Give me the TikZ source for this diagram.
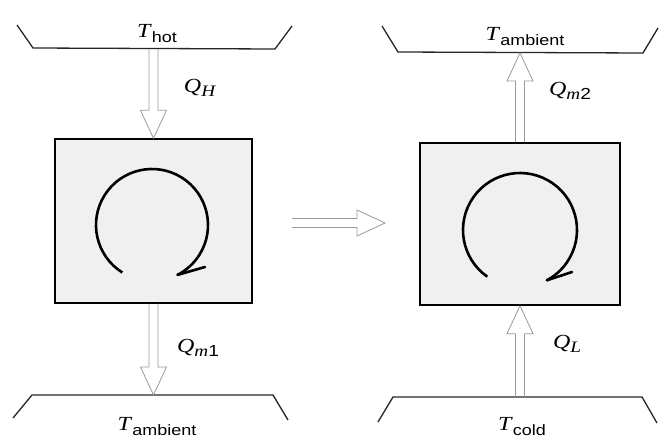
\documentclass[tikz,border=0pt]{standalone}
\usepackage{fontspec}
\usepackage{graphicx}
\setmainfont{Liberation Serif}
\setsansfont{Liberation Sans}
\usetikzlibrary{calc}
\newcommand\hollowarr[2]{%
  \coordinate (hb) at ($(#2)!28pt!(#1)$);
  \draw[hol] ($(#1)!4.5pt!90:(#2)$) -- ($(hb)!4.5pt!-90:(#1)$)
    -- ($(hb)!13pt!-90:(#1)$) -- (#2) -- ($(hb)!13pt!90:(#1)$)
    -- ($(hb)!4.5pt!90:(#1)$) -- ($(#1)!4.5pt!-90:(#2)$);
}
\newcommand\subsf[1]{\raisebox{-5pt}{\sffamily\fontsize{15}{15}\selectfont #1}}
\newcommand\subq[1]{\raisebox{-4pt}{\fontsize{16}{16}\selectfont #1}}
\newcommand\wide[1]{\scalebox{1.2}[1]{#1}}
\begin{document}
\begin{tikzpicture}[x=1pt,y=-1pt,
  res/.style={draw=black!85, line width=1.3pt, line join=round},
  engbox/.style={draw=black, line width=1.4pt, fill=gray!12, inner sep=0pt},
  cyc/.style={draw=black, line width=2.6pt},
  hol/.style={draw=black!40, line width=0.8pt, line join=miter},
  lab/.style={inner sep=0pt, font=\fontsize{20}{20}\selectfont}]
\useasboundingbox (0,0) rectangle (659,439);
% reservoirs
\draw[res] (17,25) -- (33,48) -- (275,49) -- (292,26);
\draw[res] (382,26) -- (398,52) -- (643,53) -- (658,28);
\draw[res] (13,418) -- (32,395) -- (273,395) -- (288,420);
\draw[res] (378,422) -- (393,397) -- (642,397) -- (657,423);
% engines
\node[engbox, minimum width=197pt, minimum height=164pt] (eng1) at (153.5,221) {};
\node[engbox, minimum width=200pt, minimum height=162pt] (eng2) at (520,224) {};
% cycles
\coordinate (c1) at (152,225);
\draw[cyc] (c1) ++(122:56) arc[start angle=122, end angle=423, radius=56] coordinate (t1);
\coordinate (b1) at (205,267);
\draw[cyc, line cap=round] (t1) -- (b1);
\coordinate (c2) at (520,230);
\draw[cyc] (c2) ++(125:57) arc[start angle=125, end angle=422, radius=57] coordinate (t2);
\coordinate (b2) at (572,272);
\draw[cyc, line cap=round] (t2) -- (b2);
% heat flows
\coordinate (hotP) at (153.5,49);
\coordinate (amb1P) at (153.5,395);
\coordinate (amb2P) at (520,53);
\coordinate (coldP) at (520,397);
\coordinate (mA) at (292,223);
\coordinate (mB) at (385,223);
\hollowarr{hotP}{eng1.north}
\hollowarr{eng1.south}{amb1P}
\hollowarr{eng2.north}{amb2P}
\hollowarr{coldP}{eng2.south}
\hollowarr{mA}{mB}
% labels
\node[lab] (thot) at (157,34) {\wide{\textit{T}\subsf{hot}}};
\node[lab] (tamb2) at (525,37) {\wide{\textit{T}\subsf{ambient}}};
\node[lab] (tamb1) at (157,427) {\wide{\textit{T}\subsf{ambient}}};
\node[lab] (tcold) at (522,427) {\wide{\textit{T}\subsf{cold}}};
\node[lab] (qh) at (200,88) {\wide{\textit{Q}\subq{\textit{H}}}};
\node[lab] (qm1) at (198,348) {\wide{\textit{Q}\subq{\textit{m}\textsf{1}}}};
\node[lab] (qm2) at (570,91) {\wide{\textit{Q}\subq{\textit{m}\textsf{2}}}};
\node[lab] (ql) at (567,344) {\wide{\textit{Q}\subq{\textit{L}}}};
\end{tikzpicture}
\end{document}
